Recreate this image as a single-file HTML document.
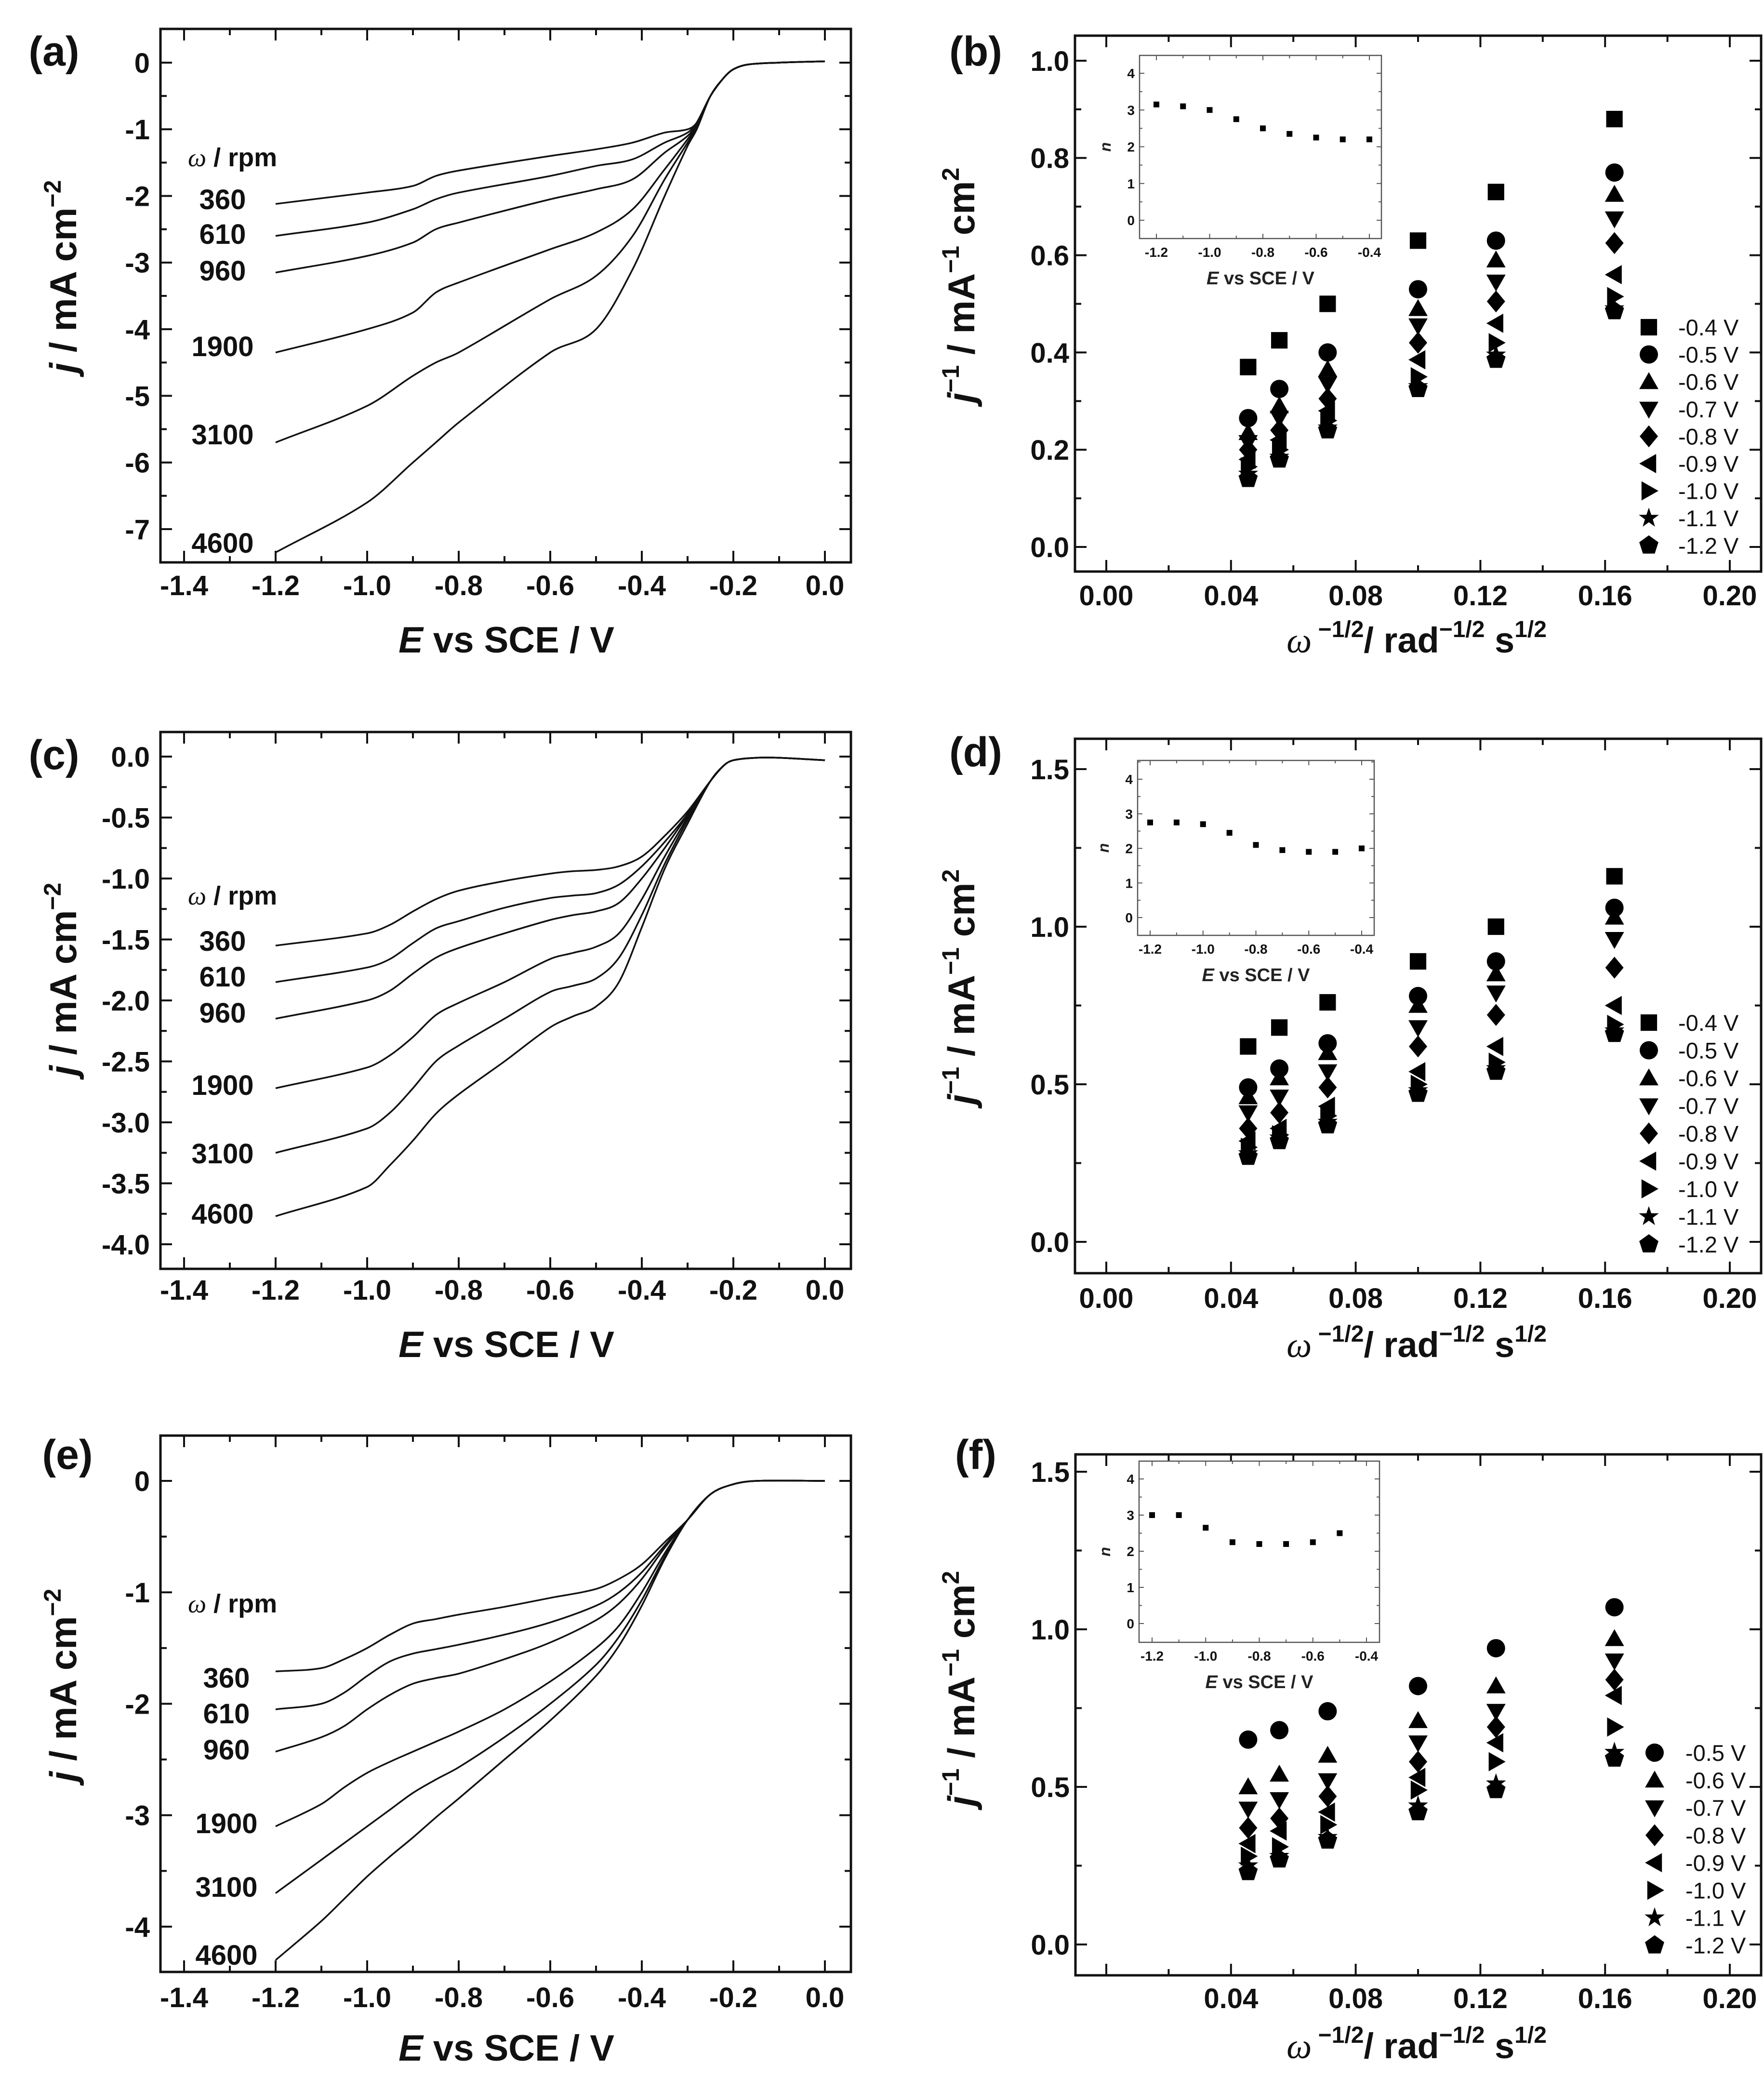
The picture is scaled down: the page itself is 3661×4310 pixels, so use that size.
<!DOCTYPE html>
<html><head><meta charset="utf-8"><style>
html,body{margin:0;padding:0;background:#fff}
svg{display:block}
text{font-family:"Liberation Sans",Arial,sans-serif}
</style></head><body>
<svg id="fig" xmlns="http://www.w3.org/2000/svg" width="3661" height="4310" viewBox="0 0 3661 4310"></svg>
<script>
// ---------- DATA ----------
const rpmLabels = ["360","610","960","1900","3100","4600"];
// panel (a)
const aE = [-1.2,-1.0,-0.9,-0.85,-0.8,-0.6,-0.5,-0.42,-0.35,-0.3,-0.28,-0.25,-0.22,-0.2,-0.17,-0.1,0];
const a360  = [-2.12,-1.95,-1.85,-1.7,-1.62,-1.4,-1.3,-1.2,-1.05,-1.0,-0.9,-0.5,-0.22,-0.1,-0.03,0,0.02];
const a610  = [-2.6,-2.4,-2.2,-2.05,-1.95,-1.7,-1.55,-1.45,-1.2,-1.05,-0.9,-0.5,-0.22,-0.1,-0.03,0,0.02];
const a960  = [-3.15,-2.9,-2.7,-2.5,-2.4,-2.05,-1.9,-1.75,-1.35,-1.1,-0.92,-0.5,-0.22,-0.1,-0.03,0,0.02];
const a1900 = [-4.35,-4.0,-3.75,-3.45,-3.3,-2.8,-2.55,-2.2,-1.6,-1.15,-0.95,-0.5,-0.22,-0.1,-0.03,0,0.02];
const a3100 = [-5.7,-5.15,-4.7,-4.5,-4.35,-3.55,-3.2,-2.6,-1.75,-1.2,-0.97,-0.5,-0.22,-0.1,-0.03,0,0.02];
const a4600 = [-7.35,-6.6,-6.0,-5.7,-5.4,-4.35,-4.0,-3.1,-2.0,-1.25,-1.0,-0.5,-0.22,-0.1,-0.03,0,0.02];
const aYTicks = [0,-1,-2,-3,-4,-5,-6,-7];
// panel (c)
const cE = [-1.2,-1.0,-0.95,-0.9,-0.85,-0.8,-0.7,-0.6,-0.55,-0.5,-0.45,-0.4,-0.35,-0.3,-0.25,-0.22,-0.2,-0.15,-0.1,0];
const c360  = [-1.55,-1.45,-1.38,-1.27,-1.17,-1.1,-1.02,-0.96,-0.94,-0.93,-0.9,-0.82,-0.65,-0.45,-0.2,-0.07,-0.03,-0.01,-0.01,-0.03];
const c610  = [-1.85,-1.73,-1.66,-1.53,-1.41,-1.35,-1.24,-1.16,-1.14,-1.12,-1.05,-0.9,-0.7,-0.47,-0.2,-0.07,-0.03,-0.01,-0.01,-0.03];
const c960  = [-2.15,-2.0,-1.92,-1.78,-1.65,-1.57,-1.45,-1.34,-1.3,-1.27,-1.2,-1.0,-0.75,-0.48,-0.2,-0.07,-0.03,-0.01,-0.01,-0.03];
const c1900 = [-2.72,-2.55,-2.45,-2.3,-2.12,-2.02,-1.85,-1.66,-1.61,-1.56,-1.45,-1.17,-0.82,-0.5,-0.2,-0.07,-0.03,-0.01,-0.01,-0.03];
const c3100 = [-3.25,-3.05,-2.92,-2.72,-2.5,-2.37,-2.15,-1.93,-1.88,-1.82,-1.65,-1.3,-0.88,-0.52,-0.2,-0.07,-0.03,-0.01,-0.01,-0.03];
const c4600 = [-3.77,-3.53,-3.35,-3.15,-2.93,-2.77,-2.5,-2.22,-2.13,-2.05,-1.85,-1.4,-0.92,-0.55,-0.2,-0.07,-0.03,-0.01,-0.01,-0.03];
const cYTicks = [0,-0.5,-1,-1.5,-2,-2.5,-3,-3.5,-4];
// panel (e)
const eE = [-1.2,-1.1,-1.05,-1.0,-0.95,-0.9,-0.85,-0.8,-0.7,-0.6,-0.5,-0.45,-0.4,-0.35,-0.3,-0.25,-0.2,-0.15,0];
const e360  = [-1.71,-1.68,-1.6,-1.5,-1.38,-1.28,-1.24,-1.2,-1.13,-1.05,-0.97,-0.88,-0.75,-0.55,-0.35,-0.12,-0.03,0,0];
const e610  = [-2.05,-2.0,-1.9,-1.75,-1.62,-1.55,-1.51,-1.47,-1.38,-1.27,-1.12,-1.0,-0.82,-0.58,-0.35,-0.12,-0.03,0,0];
const e960  = [-2.43,-2.3,-2.2,-2.05,-1.92,-1.82,-1.77,-1.73,-1.6,-1.45,-1.25,-1.1,-0.88,-0.6,-0.35,-0.12,-0.03,0,0];
const e1900 = [-3.1,-2.9,-2.75,-2.62,-2.52,-2.43,-2.34,-2.25,-2.05,-1.8,-1.5,-1.3,-1.0,-0.65,-0.35,-0.12,-0.03,0,0];
const e3100 = [-3.7,-3.4,-3.25,-3.1,-2.95,-2.8,-2.68,-2.57,-2.3,-2.0,-1.65,-1.4,-1.07,-0.68,-0.35,-0.12,-0.03,0,0];
const e4600 = [-4.3,-3.95,-3.75,-3.55,-3.37,-3.2,-3.02,-2.85,-2.5,-2.15,-1.75,-1.48,-1.12,-0.7,-0.35,-0.12,-0.03,0,0];
const eYTicks = [0,-1,-2,-3,-4];
const lsvXTicks = [-1.4,-1.2,-1.0,-0.8,-0.6,-0.4,-0.2,0.0];
// K-L panels
const klX = [0.0455,0.0555,0.071,0.1,0.125,0.163];
const potBD = ["-0.4 V","-0.5 V","-0.6 V","-0.7 V","-0.8 V","-0.9 V","-1.0 V","-1.1 V","-1.2 V"];
const potF  = ["-0.5 V","-0.6 V","-0.7 V","-0.8 V","-0.9 V","-1.0 V","-1.1 V","-1.2 V"];
const bP04=[0.37,0.425,0.5,0.63,0.73,0.88], bP05=[0.265,0.325,0.4,0.53,0.63,0.77], bP06=[0.235,0.29,0.365,0.49,0.59,0.725],
      bP07=[0.215,0.265,0.335,0.455,0.545,0.675], bP08=[0.2,0.24,0.305,0.42,0.505,0.625], bP09=[0.18,0.22,0.28,0.385,0.46,0.56],
      bP10=[0.165,0.2,0.26,0.35,0.42,0.515], bP11=[0.15,0.185,0.245,0.33,0.395,0.49], bP12=[0.14,0.18,0.24,0.325,0.385,0.485];
const dP04=[0.62,0.68,0.76,0.89,1.0,1.16], dP05=[0.49,0.55,0.63,0.78,0.89,1.06], dP06=[0.46,0.52,0.6,0.75,0.85,1.03],
      dP07=[0.41,0.46,0.54,0.68,0.79,0.96], dP08=[0.36,0.41,0.49,0.62,0.72,0.87], dP09=[0.32,0.36,0.43,0.54,0.62,0.75],
      dP10=[0.3,0.34,0.4,0.5,0.57,0.69], dP11=[0.28,0.33,0.38,0.48,0.55,0.67], dP12=[0.27,0.32,0.37,0.47,0.54,0.66];
const fP05=[0.65,0.68,0.74,0.82,0.94,1.07], fP06=[0.5,0.54,0.6,0.71,0.82,0.97], fP07=[0.43,0.46,0.52,0.64,0.74,0.9],
      fP08=[0.37,0.4,0.47,0.58,0.69,0.84], fP09=[0.32,0.36,0.42,0.53,0.64,0.79], fP10=[0.28,0.31,0.38,0.49,0.58,0.69],
      fP11=[0.25,0.28,0.34,0.44,0.51,0.61], fP12=[0.23,0.27,0.33,0.42,0.49,0.59];
const bdXTicks = [0.00,0.04,0.08,0.12,0.16,0.20];
const fXTicks = [0.04,0.08,0.12,0.16,0.20];
const bYTicks = [0.0,0.2,0.4,0.6,0.8,1.0];
const dfYTicks = [0.0,0.5,1.0,1.5];
// insets (n vs E)
const insEbd = [-1.2,-1.1,-1.0,-0.9,-0.8,-0.7,-0.6,-0.5,-0.4];
const insNb  = [3.15,3.1,3.0,2.75,2.5,2.35,2.25,2.2,2.2];
const insNd  = [2.75,2.75,2.7,2.45,2.1,1.95,1.9,1.9,2.0];
const insEf  = [-1.2,-1.1,-1.0,-0.9,-0.8,-0.7,-0.6,-0.5];
const insNf  = [3.0,3.0,2.65,2.25,2.2,2.2,2.25,2.5];
const insXTicks = [-1.2,-1.0,-0.8,-0.6,-0.4];
const insYTicks = [0,1,2,3,4];

// ---------- HELPERS ----------
const NS="http://www.w3.org/2000/svg";
const svg=document.getElementById('fig');
function mk(tag,attrs,parent){const e=document.createElementNS(NS,tag);for(const k in attrs)e.setAttribute(k,attrs[k]);(parent||svg).appendChild(e);return e;}
function lin(v0,p0,v1,p1){return v=>p0+(v-v0)*(p1-p0)/(v1-v0);}
// Hermite spline in x with slopes from neighbours (handles uneven spacing)
function smooth(pts){const n=pts.length,m=[];
  for(let i=0;i<n;i++){const a=pts[Math.max(0,i-1)],b=pts[Math.min(n-1,i+1)];m.push((b[1]-a[1])/(b[0]-a[0]));}
  let d='M'+pts[0][0].toFixed(1)+','+pts[0][1].toFixed(1);
  for(let i=0;i<n-1;i++){const p1=pts[i],p2=pts[i+1],dx=(p2[0]-p1[0])/3;
    d+='C'+(p1[0]+dx).toFixed(1)+','+(p1[1]+m[i]*dx).toFixed(1)+' '+(p2[0]-dx).toFixed(1)+','+(p2[1]-m[i+1]*dx).toFixed(1)+' '+p2[0].toFixed(1)+','+p2[1].toFixed(1);}
  return d;}
function fmt(v,dec){let s=Math.abs(v).toFixed(dec);return (v<-1e-9?'-':'')+s;}

function frameAxes(P,g,xt,yt,xdec,ydec,opts){
  const X=P.X,Y=P.Y,sw=opts.sw,maj=opts.maj,min=opts.min,fs=opts.fs;
  const r=mk('rect',{x:P.fx0,y:P.fy0,width:P.fx1-P.fx0,height:P.fy1-P.fy0,fill:'none',stroke:opts.col,'stroke-width':sw},g);
  
  
  const ticks=mk('g',{stroke:opts.col,'stroke-width':sw*0.8},g);
  
  
  const xs=xt[1]-xt[0], ys=yt[1]-yt[0];
  const xall=[],yall=[];
  for(let i=-2;i<=2*xt.length+2;i++){const v=xt[0]+i*xs/2;const p=X(v);if(p>P.fx0+3&&p<P.fx1-3)xall.push([p,i%2===0]);}
  for(let i=-2;i<=2*yt.length+2;i++){const v=yt[0]+i*ys/2;const p=Y(v);if(p>P.fy0+3&&p<P.fy1-3)yall.push([p,i%2===0]);}
  xall.forEach(([p,M])=>{const L=M?maj:min;
    mk('line',{x1:p,y1:P.fy1,x2:p,y2:P.fy1-L},ticks);mk('line',{x1:p,y1:P.fy0,x2:p,y2:P.fy0+L},ticks);});
  yall.forEach(([p,M])=>{const L=M?maj:min;
    mk('line',{x1:P.fx0,y1:p,x2:P.fx0+L,y2:p},ticks);mk('line',{x1:P.fx1,y1:p,x2:P.fx1-L,y2:p},ticks);});
  xt.forEach(v=>{const t=mk('text',{x:X(v),y:opts.xly,'font-size':fs,'font-weight':'bold','text-anchor':'middle',fill:'#111'},g);
    t.textContent=fmt(v,xdec);
    
    });
  yt.forEach(v=>{const t=mk('text',{x:P.fx0-opts.ylg,y:Y(v)+fs*0.36,'font-size':fs,'font-weight':'bold','text-anchor':'end',fill:'#111'},g);
    t.textContent=fmt(v,ydec);
    
    });
}
function panelLetter(txt,x,y){const t=mk('text',{x:x,y:y+30,'font-size':86,'font-weight':'bold','text-anchor':'middle',fill:'#111'});
  t.textContent=txt;
  
  }

// ---------- LSV PANELS ----------
function lsvPanel(name,letter,P,E,series,yt,ydec,labY,rpmY,ytitleCY,xtitleY,xly){
  const g=mk('g',{});
  
  
  P.X=lin(-1.4,382,0,1712);P.Y=lin(P.yv0,P.yp0,P.yv1,P.yp1);
  frameAxes(P,g,lsvXTicks,yt,1,ydec,{sw:5,maj:24,min:13,fs:58,col:'#111',xly:xly,ylg:22});
  series.forEach((s,i)=>{const pts=E.map((e,k)=>[P.X(e),P.Y(s[k])]);
    const p=mk('path',{d:smooth(pts),fill:'none',stroke:'#111','stroke-width':3.5,'stroke-linejoin':'round'},g);
    
    
    const t=mk('text',{x:P.labX,y:labY[i]+21,'font-size':58,'font-weight':'bold','text-anchor':'middle',fill:'#111'},g);
    t.textContent=rpmLabels[i];
    
    });
  const r=mk('text',{x:390,y:rpmY+18,'font-size':54,'font-weight':'bold',fill:'#111'},g);
  r.innerHTML='<tspan font-family="Liberation Serif" font-style="italic" font-weight="normal">ω</tspan> / rpm';
  
  
  const yt2=mk('text',{transform:'translate(158,'+ytitleCY+') rotate(-90)','font-size':78,'font-weight':'bold','text-anchor':'middle',fill:'#111'},g);
  yt2.innerHTML='<tspan font-style="italic">j</tspan> / mA cm<tspan dy="-32" font-size="50">−2</tspan>';
  
  
  const xt2=mk('text',{x:1051,y:xtitleY,'font-size':76,'font-weight':'bold','text-anchor':'middle',fill:'#111'},g);
  xt2.innerHTML='<tspan font-style="italic">E</tspan> vs SCE / V';
  
  
}
lsvPanel('panel-a','(a)',{fx0:333,fx1:1766,fy0:60,fy1:1167,yv0:0,yp0:130,yv1:-7,yp1:1098,labX:462},aE,[a360,a610,a960,a1900,a3100,a4600],aYTicks,0,[413,485,561,718,901,1126],327,574,1354,1235);
lsvPanel('panel-c','(c)',{fx0:333,fx1:1766,fy0:1519,fy1:2633,yv0:0,yp0:1570,yv1:-4,yp1:2582,labX:462},cE,[c360,c610,c960,c1900,c3100,c4600],cYTicks,1,[1952,2026,2101,2251,2393,2518],1859,2032,2816,2697);
lsvPanel('panel-e','(e)',{fx0:333,fx1:1766,fy0:2979,fy1:4092,yv0:0,yp0:3073,yv1:-4,yp1:3998,labX:470},eE,[e360,e610,e960,e1900,e3100,e4600],eYTicks,0,[3481,3555,3630,3783,3915,4056],3328,3497,4276,4165);
panelLetter('(a)',112,106);panelLetter('(c)',112,1566);panelLetter('(e)',140,3018);

// ---------- MARKERS ----------
function marker(type,cx,cy,r,parent){let e;
  if(type==='square')e=mk('rect',{x:cx-r*0.9,y:cy-r*0.9,width:r*1.8,height:r*1.8},parent);
  else if(type==='circle')e=mk('circle',{cx:cx,cy:cy,r:r},parent);
  else{let pts;
    if(type==='up')pts=[[0,-1.05],[1.05,0.8],[-1.05,0.8]];
    else if(type==='down')pts=[[0,1.05],[1.05,-0.8],[-1.05,-0.8]];
    else if(type==='left')pts=[[-1.05,0],[0.8,-1.05],[0.8,1.05]];
    else if(type==='right')pts=[[1.05,0],[-0.8,-1.05],[-0.8,1.05]];
    else if(type==='diamond')pts=[[0,-1.2],[1.0,0],[0,1.2],[-1.0,0]];
    else if(type==='star'){pts=[];for(let k=0;k<10;k++){const a=-Math.PI/2+k*Math.PI/5,rr=k%2?0.45:1.15;pts.push([rr*Math.cos(a),rr*Math.sin(a)]);}}
    else {pts=[];for(let k=0;k<5;k++){const a=-Math.PI/2+k*2*Math.PI/5;pts.push([1.1*Math.cos(a),1.1*Math.sin(a)]);}}
    e=mk('polygon',{points:pts.map(p=>(cx+p[0]*r).toFixed(1)+','+(cy+p[1]*r).toFixed(1)).join(' ')},parent);}
  e.setAttribute('fill','#000');return e;}

// ---------- K-L PANELS ----------
function klPanel(name,P,xt,yt,ydec,series,pots,types,legY0,legStep,legMX,legTX,ins,insE,insN,ytitleCY,xtitleY,xly){
  const g=mk('g',{});
  
  
  P.X=lin(0.04,2296+0.04*6470,0.2,3590);P.Y=lin(P.yv0,P.yp0,P.yv1,P.yp1);
  frameAxes(P,g,xt,yt,2,1,{sw:5,maj:24,min:13,fs:58,col:'#111',xly:xly,ylg:12});
  series.forEach((s,i)=>{const sg=mk('g',{},g);
    
    
    klX.forEach((x,k)=>{const m=marker(types[i],P.X(x),P.Y(s[k]),19,sg);
      
      });
    const ly=legY0+i*legStep;
    const lm=marker(types[i],legMX,ly,19,g);
    
    
    const lt=mk('text',{x:legTX,y:ly+17,'font-size':47,fill:'#111'},g);
    lt.textContent=pots[i];
    
    });
  // inset
  const ig=mk('g',{},g);
  
  
  const I={fx0:ins.x0,fx1:ins.x1,fy0:ins.y0,fy1:ins.y1};
  I.X=lin(-1.2,ins.xa,-0.4,ins.xb);I.Y=lin(4,ins.n4,0,ins.n0);
  mk('rect',{x:I.fx0,y:I.fy0,width:I.fx1-I.fx0,height:I.fy1-I.fy0,fill:'#fff',stroke:'none'},ig);
  frameAxes(I,ig,insXTicks,insYTicks,1,0,{sw:2.5,maj:10,min:6,fs:28,col:'#555',xly:ins.y1+38,ylg:10});
  insE.forEach((e,k)=>{const s=mk('rect',{x:I.X(e)-6,y:I.Y(insN[k])-6,width:12,height:12,fill:'#000'},ig);
    
    });
  const nl=mk('text',{transform:'translate('+(ins.x0-60)+','+((ins.y0+ins.y1)/2)+') rotate(-90)','font-size':32,'font-style':'italic','font-weight':'bold','text-anchor':'middle',fill:'#222'},ig);
  nl.textContent='n';
  
  
  const it=mk('text',{x:(ins.x0+ins.x1)/2,y:ins.y1+95,'font-size':38,'font-weight':'bold','text-anchor':'middle',fill:'#222'},ig);
  it.innerHTML='<tspan font-style="italic">E</tspan> vs SCE / V';
  
  
  const yt2=mk('text',{transform:'translate(2022,'+ytitleCY+') rotate(-90)','font-size':78,'font-weight':'bold','text-anchor':'middle',fill:'#111'},g);
  yt2.innerHTML='<tspan font-style="italic">j</tspan><tspan dy="-32" font-size="50">−1</tspan><tspan dy="32"> / mA</tspan><tspan dy="-32" font-size="50">−1</tspan><tspan dy="32"> cm</tspan><tspan dy="-32" font-size="50">2</tspan>';
  
  
  const xt2=mk('text',{x:2940,y:xtitleY,'font-size':74,'font-weight':'bold','text-anchor':'middle',fill:'#111'},g);
  xt2.innerHTML='<tspan font-family="Liberation Serif" font-style="italic" font-weight="normal">ω</tspan><tspan dy="-32" font-size="48"> −1/2</tspan><tspan dy="32">/ rad</tspan><tspan dy="-32" font-size="48">−1/2</tspan><tspan dy="32"> s</tspan><tspan dy="-32" font-size="48">1/2</tspan>';
  
  
}
const t9=['square','circle','up','down','diamond','left','right','star','pent'];
const t8=['circle','up','down','diamond','left','right','star','pent'];
klPanel('panel-b',{fx0:2231,fx1:3655,fy0:74,fy1:1186,yv0:1.0,yp0:126,yv1:0,yp1:1135},bdXTicks,bYTicks,1,
  [bP04,bP05,bP06,bP07,bP08,bP09,bP10,bP11,bP12],potBD,t9,679,56.6,3422,3483,
  {x0:2365,x1:2867,y0:115,y1:495,xa:2400,xb:2842,n4:152,n0:457},insEbd,insNb,592,1354,1256);
klPanel('panel-d',{fx0:2231,fx1:3655,fy0:1533,fy1:2642,yv0:1.5,yp0:1596,yv1:0,yp1:2577},bdXTicks,dfYTicks,1,
  [dP04,dP05,dP06,dP07,dP08,dP09,dP10,dP11,dP12],potBD,t9,2122,57.5,3422,3483,
  {x0:2361,x1:2852,y0:1578,y1:1941,xa:2387,xb:2826,n4:1617,n0:1904},insEbd,insNd,2048,2816,2714);
klPanel('panel-f',{fx0:2232,fx1:3655,fy0:3018,fy1:4099,yv0:1.5,yp0:3054,yv1:0,yp1:4035},fXTicks,dfYTicks,1,
  [fP05,fP06,fP07,fP08,fP09,fP10,fP11,fP12],potF,t8,3637,57.1,3434,3498,
  {x0:2364,x1:2863,y0:3032,y1:3408,xa:2391,xb:2836,n4:3069,n0:3369},insEf,insNf,3504,4271,4167);
panelLetter('(b)',2025,106);panelLetter('(d)',2025,1560);panelLetter('(f)',2025,3018);
</script>
</body></html>
